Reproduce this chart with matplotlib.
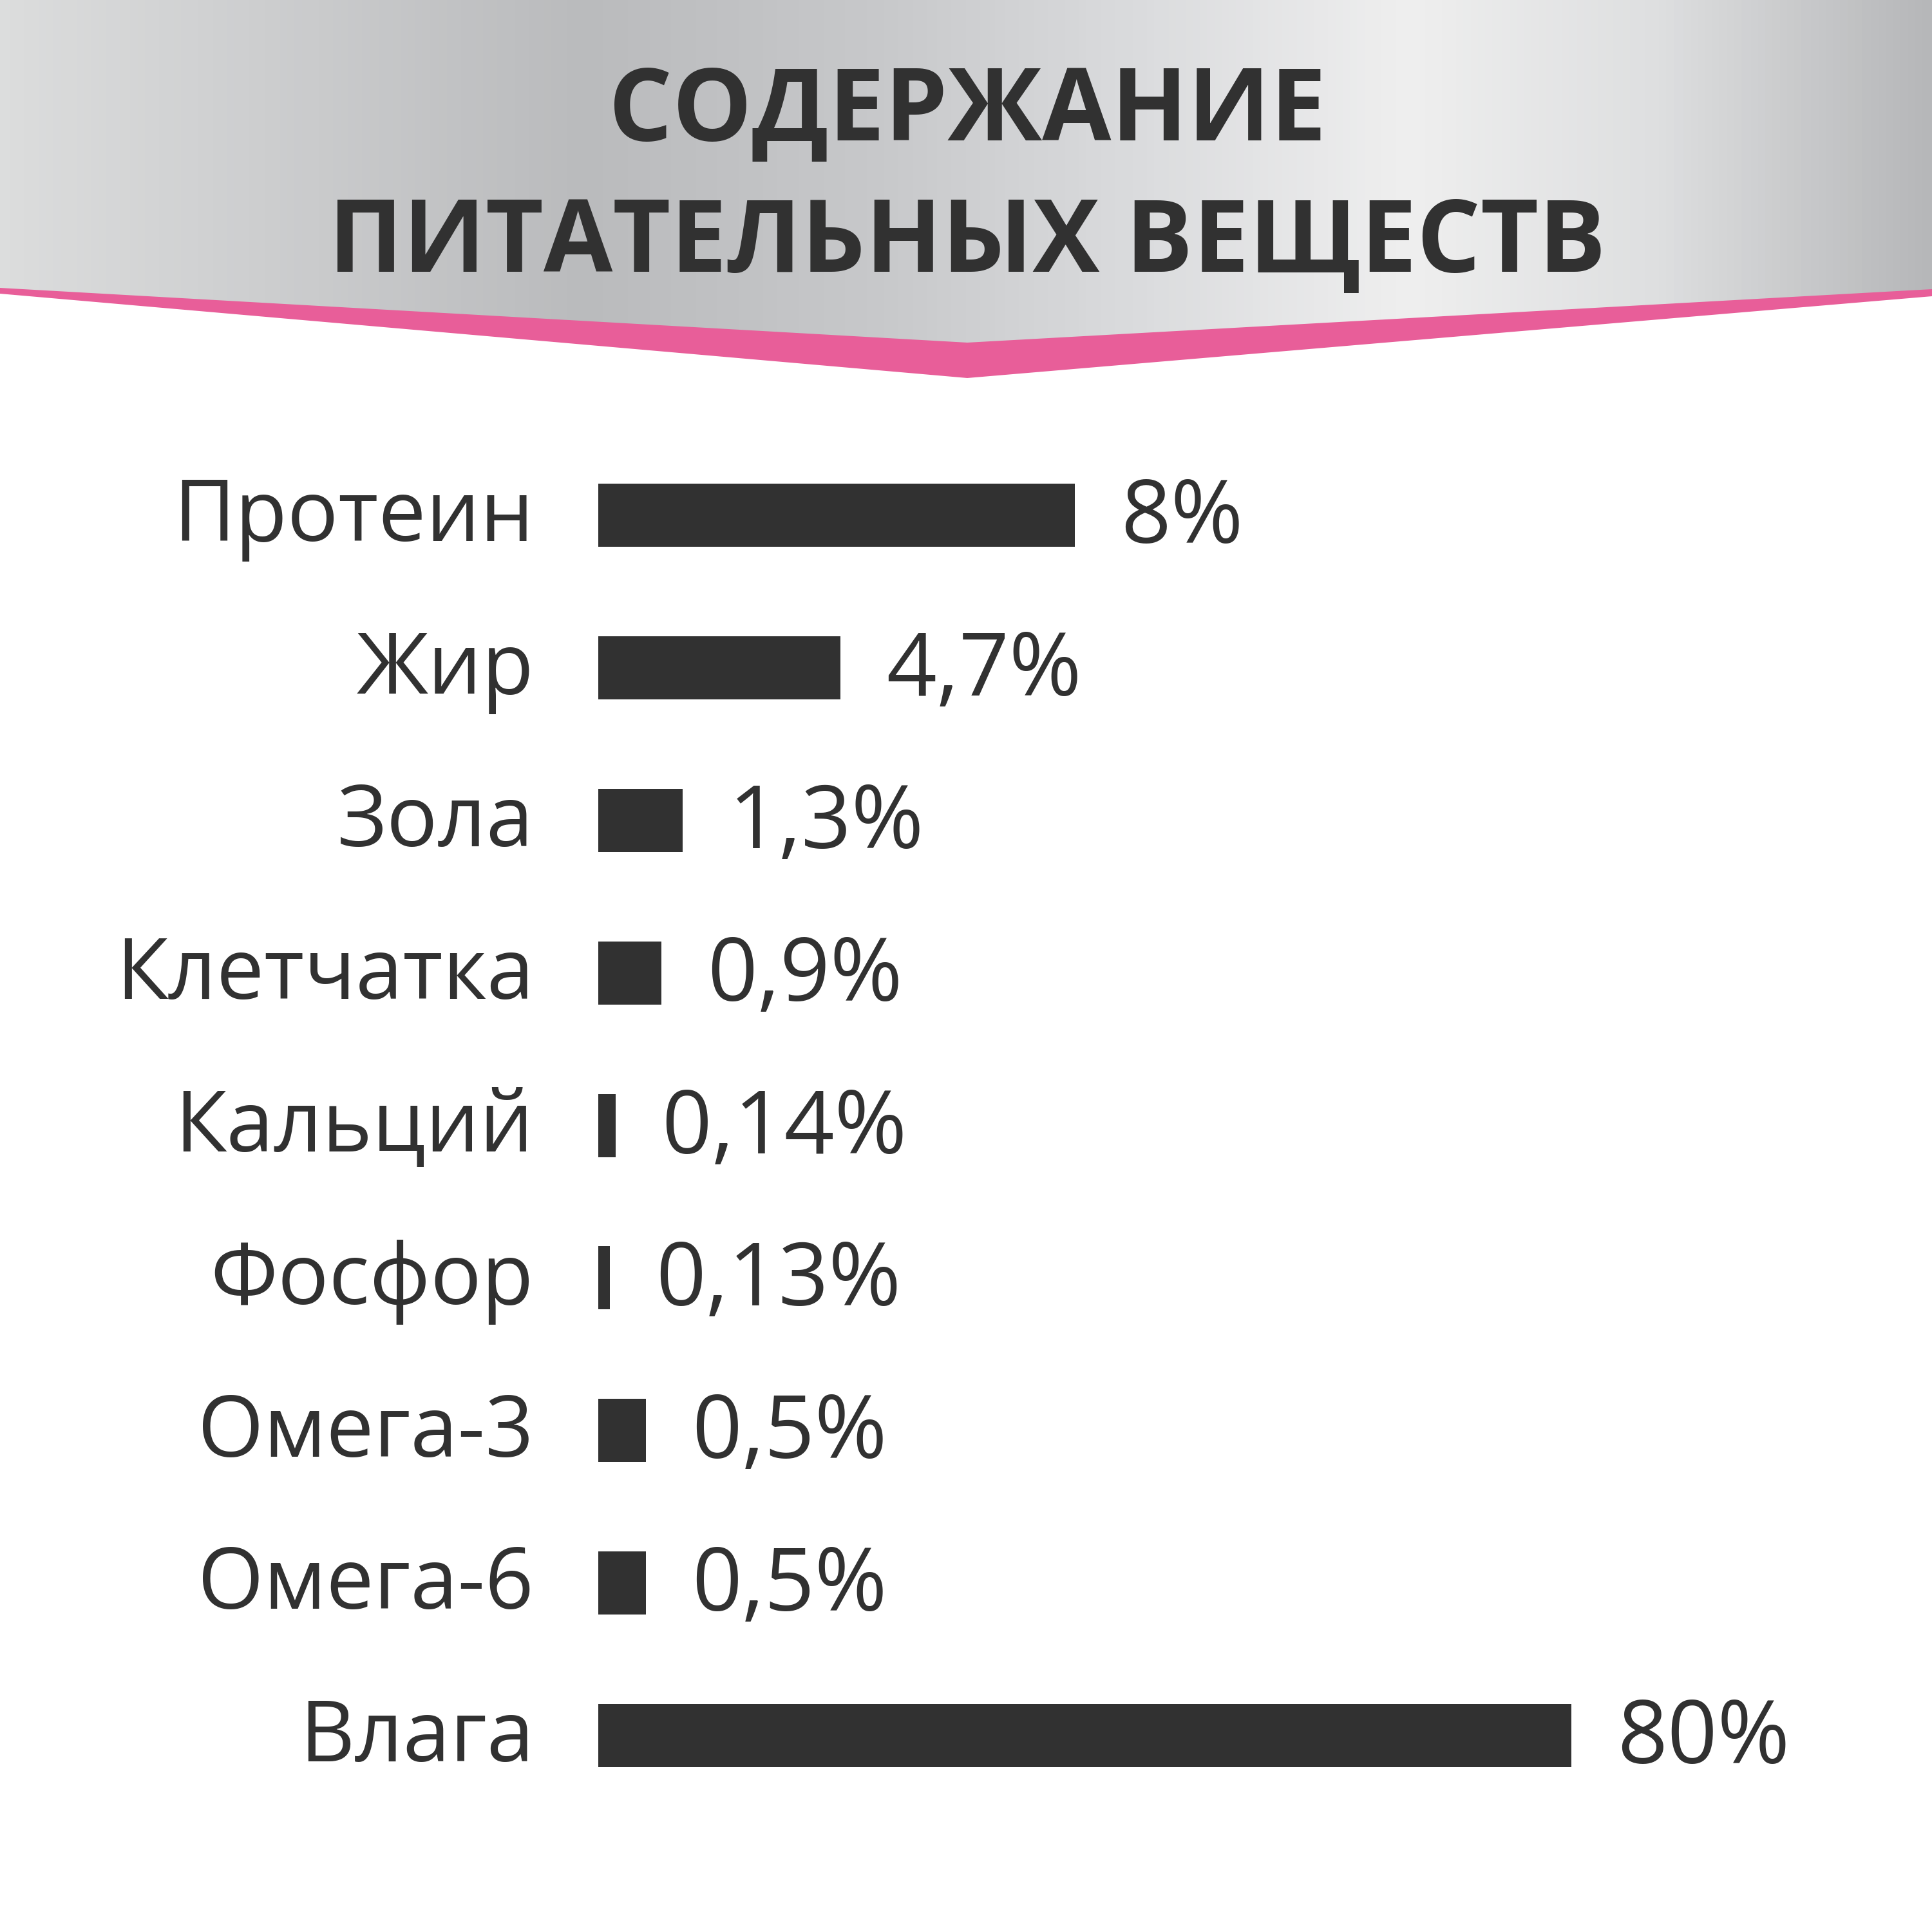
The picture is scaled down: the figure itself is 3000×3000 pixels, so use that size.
import numpy as np
import matplotlib.pyplot as plt
from matplotlib.colors import LinearSegmentedColormap
from matplotlib.patches import Polygon

# chart data
nutrients = ['Протеин', 'Жир', 'Зола', 'Клетчатка', 'Кальций',
             'Фосфор', 'Омега-3', 'Омега-6', 'Влага']
value_labels = ['8%', '4,7%', '1,3%', '0,9%', '0,14%',
                '0,13%', '0,5%', '0,5%', '80%']
# bar lengths as drawn in the picture (percent of the longest bar)
bar_lengths = [49.0, 24.9, 8.7, 6.5, 1.8, 1.2, 4.9, 4.9, 100.0]
title_lines = ['СОДЕРЖАНИЕ', 'ПИТАТЕЛЬНЫХ ВЕЩЕСТВ']

DARK = '#313131'
PINK = '#e85e99'
FONT = 'Open Sans'

fig = plt.figure(figsize=(30, 30), dpi=100)
fig.patch.set_facecolor('white')

# ---- header (pixel coordinates, y down) ----
bg = fig.add_axes([0, 0, 1, 1])
bg.set_xlim(0, 3000)
bg.set_ylim(3000, 0)
bg.axis('off')

silver = LinearSegmentedColormap.from_list('silver', [
    (0.00, '#dcdddd'),
    (0.10, '#d1d2d3'),
    (0.30, '#babbbd'),
    (0.45, '#c7c8ca'),
    (0.60, '#dcdddf'),
    (0.73, '#efefef'),
    (0.86, '#dedfe0'),
    (1.00, '#b6b7b9'),
])
header = Polygon([(0, 0), (3000, 0), (3000, 450), (1502, 533), (0, 448)],
                 closed=True, facecolor='none', edgecolor='none')
bg.add_patch(header)
grad = np.linspace(0, 1, 800).reshape(1, -1)
im = bg.imshow(grad, cmap=silver, extent=(0, 3000, 600, 0), aspect='auto')
im.set_clip_path(header)

band = Polygon([(0, 447), (1502, 532), (3000, 449), (3000, 460),
                (1502, 587), (0, 456)], closed=True,
               facecolor=PINK, edgecolor='none')
bg.add_patch(band)

for text, base in zip(title_lines, [218, 422]):
    bg.text(1502, base, text, ha='center', va='baseline', fontsize=112,
            fontweight='bold', family=FONT, color=DARK)

# ---- bar chart ----
n = len(nutrients)
ax = fig.add_axes([929 / 3000, 0.06219, 2071 / 3000, 0.71061])
y = np.arange(n)
ax.barh(y, bar_lengths, height=0.4137, color=DARK)
ax.set_xlim(0, 100 * 2071 / 1511)
ax.set_ylim(n - 0.5, -0.5)
ax.axis('off')

for i in range(n):
    ax.annotate(nutrients[i], xy=(0, y[i]), xytext=(-72, -29),
                textcoords='offset points', ha='right', va='baseline',
                fontsize=95, family=FONT, color=DARK)
    ax.annotate(value_labels[i], xy=(bar_lengths[i], y[i]), xytext=(51, -31),
                textcoords='offset points', ha='left', va='baseline',
                fontsize=98, family=FONT, color=DARK)

fig.savefig('out.png', dpi=100)
